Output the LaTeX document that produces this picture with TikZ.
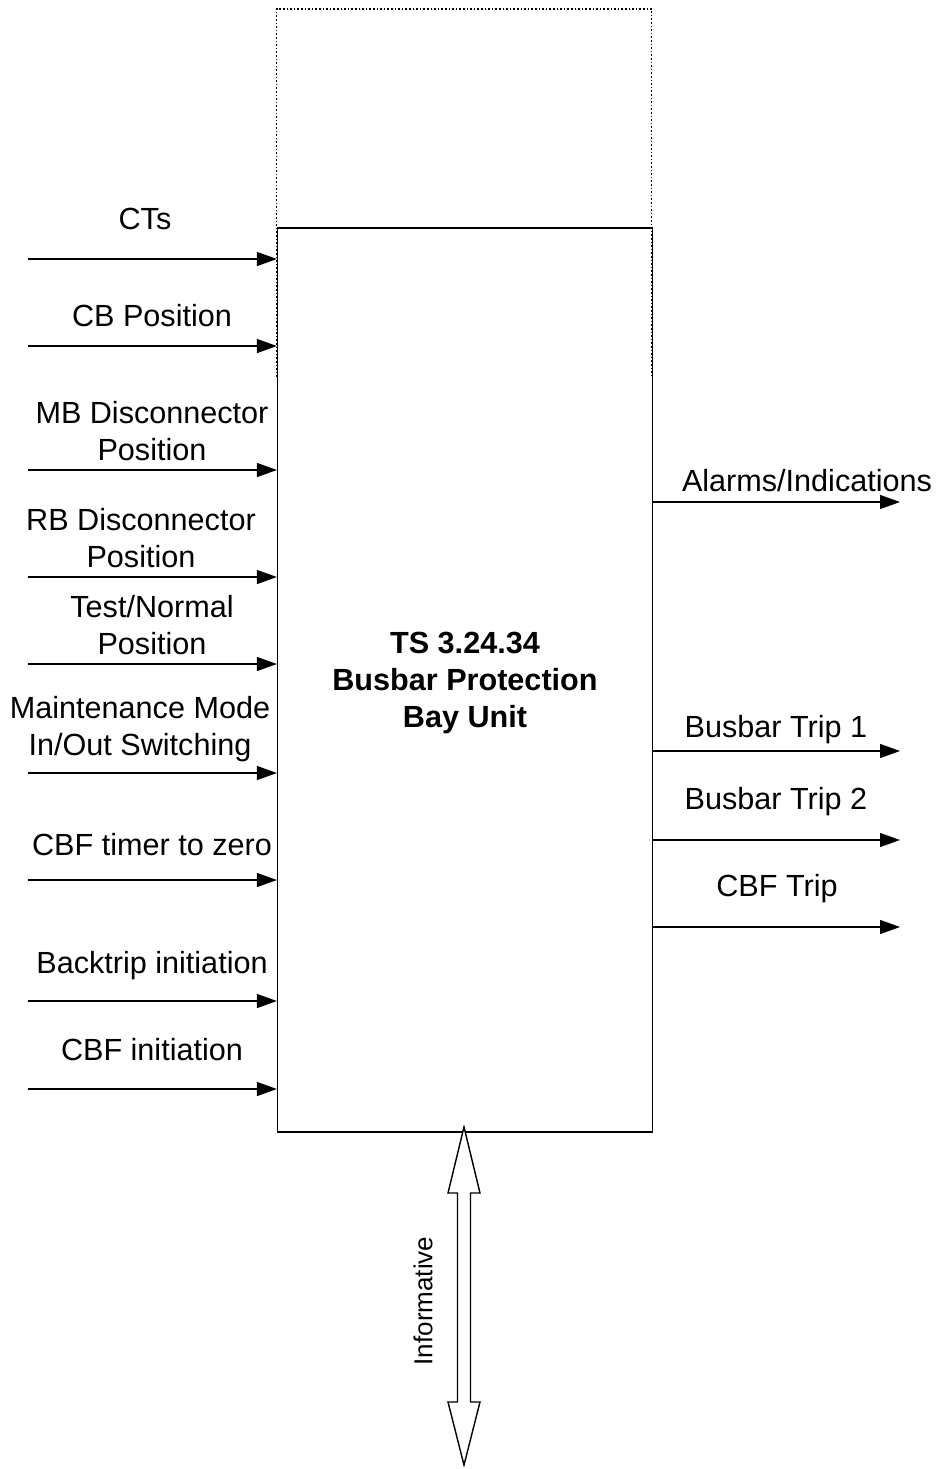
\documentclass[tikz,border=0pt]{standalone}
\usepackage{fontspec}
\setmainfont{Liberation Sans}
\usetikzlibrary{arrows.meta, positioning}

\begin{document}
\begin{tikzpicture}[x=0.5pt, y=-0.5pt]

\tikzset{every node/.style = {font=\fontsize{15.3}{18.5}\selectfont, inner sep=0pt, align=center}}
\tikzset{signal/.style = {-{Triangle[length=10pt, width=7pt]}, line width=0.6pt}}
\useasboundingbox (0,0) rectangle (938,1469);
% bay unit
\node[draw, line width=0.6pt, minimum width=187.5pt, minimum height=452pt] (bay) at (465,680) {};
\node[font=\fontsize{15.3}{18.5}\selectfont\bfseries] (title) at (465,683) {TS 3.24.34\\Busbar Protection\\Bay Unit};
\draw[densely dotted, line width=0.8pt] (276.5,377) -- (276.5,9) -- (651.5,9) -- (651.5,377);
% inputs
\coordinate (i1) at (28,259);
\coordinate (i2) at (28,346);
\coordinate (i3) at (28,470);
\coordinate (i4) at (28,577);
\coordinate (i5) at (28,664);
\coordinate (i6) at (28,773);
\coordinate (i7) at (28,880);
\coordinate (i8) at (28,1001);
\coordinate (i9) at (28,1089);
\node (cts) at (145,219) {CTs};
\node (cbpos) at (152,316) {CB Position};
\node (mbpos) at (152,431) {MB Disconnector\\Position};
\node (rbpos) at (141,538) {RB Disconnector\\Position};
\node (testpos) at (152,625) {Test/Normal\\Position};
\node (maint) at (140,729) {Maintenance Mode\\In/Out Switching};
\node (cbfzero) at (152,845) {CBF timer to zero};
\node (backtrip) at (152,966) {Backtrip initiation};
\node (cbfinit) at (152,1050) {CBF initiation};
\draw[signal] (i1) -- (i1 -| bay.west);
\draw[signal] (i2) -- (i2 -| bay.west);
\draw[signal] (i3) -- (i3 -| bay.west);
\draw[signal] (i4) -- (i4 -| bay.west);
\draw[signal] (i5) -- (i5 -| bay.west);
\draw[signal] (i6) -- (i6 -| bay.west);
\draw[signal] (i7) -- (i7 -| bay.west);
\draw[signal] (i8) -- (i8 -| bay.west);
\draw[signal] (i9) -- (i9 -| bay.west);
% outputs
\coordinate (o1) at (900,502);
\coordinate (o2) at (900,751);
\coordinate (o3) at (900,840);
\coordinate (o4) at (900,927);
\node (alarms) at (807,481) {Alarms/Indications};
\node (trip1) at (776,730) {Busbar Trip 1};
\node (trip2) at (776,802) {Busbar Trip 2};
\node (cbftrip) at (777,889) {CBF Trip};
\draw[signal] (o1 -| bay.east) -- (o1);
\draw[signal] (o2 -| bay.east) -- (o2);
\draw[signal] (o3 -| bay.east) -- (o3);
\draw[signal] (o4 -| bay.east) -- (o4);
% informative link
\draw[line width=0.7pt, fill=white] (464,1127) -- (480,1193) -- (470.5,1193) -- (470.5,1402) -- (480,1402)
  -- (464,1465) -- (448,1402) -- (457.5,1402) -- (457.5,1193) -- (448,1193) -- cycle;
\node[rotate=90, font=\fontsize{13}{15}\selectfont] (info) at (423,1301) {Informative};
\end{tikzpicture}
\end{document}
